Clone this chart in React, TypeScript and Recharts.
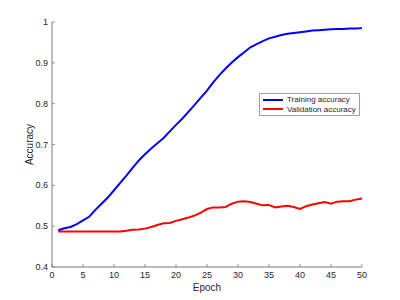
import { Legend, Line, LineChart, XAxis, YAxis } from "recharts";

const epochs = Array.from({ length: 50 }, (_, i) => i + 1);
const trainingAcc = [
    0.490, 0.495, 0.498, 0.505, 0.514, 0.523, 0.540, 0.555, 0.570, 0.588,
    0.606, 0.624, 0.643, 0.661, 0.676, 0.690, 0.703, 0.716, 0.732, 0.748,
    0.763, 0.780, 0.797, 0.815, 0.832, 0.852, 0.870, 0.886, 0.901, 0.914,
    0.926, 0.938, 0.946, 0.953, 0.960, 0.964, 0.968, 0.971, 0.973, 0.975,
    0.977, 0.979, 0.980, 0.981, 0.982, 0.983, 0.983, 0.984, 0.984, 0.985,
];
const validationAcc = [
    0.487, 0.487, 0.487, 0.487, 0.487, 0.487, 0.487, 0.487, 0.487, 0.487,
    0.487, 0.489, 0.491, 0.492, 0.494, 0.498, 0.503, 0.507, 0.508, 0.513,
    0.517, 0.521, 0.526, 0.533, 0.542, 0.546, 0.546, 0.547, 0.555, 0.560,
    0.561, 0.559, 0.555, 0.551, 0.552, 0.546, 0.548, 0.550, 0.547, 0.542,
    0.549, 0.553, 0.556, 0.559, 0.555, 0.560, 0.561, 0.561, 0.565, 0.568,
];
const xTicks = [0, 5, 10, 15, 20, 25, 30, 35, 40, 45, 50];
const yTicks = [0.4, 0.5, 0.6, 0.7, 0.8, 0.9, 1];

const data = epochs.map((e, i) => ({ epoch: e, train: trainingAcc[i], val: validationAcc[i] }));

const FONT = "'Liberation Sans', Arial, sans-serif";
const AXIS = "#7a7a7a";
const TEXT = "#262626";

function YTick({ x, y, payload }: any) {
    return (
        <g>
            <line x1={x + 4} y1={y} x2={x + 7} y2={y} stroke={AXIS} strokeWidth={0.8} />
            <text x={x} y={y} dy="0.35em" textAnchor="end" fontSize={9} fill={TEXT} fontFamily={FONT}>
                {payload.value === 1 ? "1" : payload.value.toFixed(1)}
            </text>
        </g>
    );
}

function XTick({ x, y, payload }: any) {
    return (
        <g>
            <line x1={x} y1={y - 5} x2={x} y2={y - 8} stroke={AXIS} strokeWidth={0.8} />
            <text x={x} y={y} dy="0.71em" textAnchor="middle" fontSize={9} fill={TEXT} fontFamily={FONT}>
                {payload.value}
            </text>
        </g>
    );
}

function LegendBox({ payload }: any) {
    return (
        <div style={{ border: "1px solid #a0a0a0", background: "#fff", padding: "1px 3px", fontFamily: FONT, fontSize: 8, color: TEXT, lineHeight: "9.5px" }}>
            {payload.map((p: any) => (
                <div key={p.value} style={{ display: "flex", alignItems: "center" }}>
                    <span style={{ display: "inline-block", width: 20, height: 1.6, background: p.color, marginRight: 4 }} />
                    {p.value}
                </div>
            ))}
        </div>
    );
}

export default function App() {
    return (
        <div style={{ position: "fixed", left: 0, top: 0, width: 400, height: 300, background: "#fff" }}>
            <LineChart width={400} height={300} data={data} margin={{ top: 22, right: 38, bottom: 0, left: 0 }}>
                <XAxis
                    dataKey="epoch"
                    type="number"
                    domain={[0, 50]}
                    ticks={xTicks}
                    tickSize={0}
                    tickMargin={5}
                    tick={<XTick />}
                    height={33}
                    stroke={AXIS}
                    label={{ value: "Epoch", position: "insideBottom", offset: 9, fontSize: 10, fill: TEXT, fontFamily: FONT }}
                />
                <YAxis
                    type="number"
                    domain={[0.4, 1]}
                    ticks={yTicks}
                    tickSize={0}
                    tickMargin={4}
                    tick={<YTick />}
                    width={52}
                    stroke={AXIS}
                    label={{ value: "Accuracy", angle: -90, position: "insideLeft", offset: 29, fontSize: 10, fill: TEXT, fontFamily: FONT, style: { textAnchor: "middle" } }}
                />
                <Legend
                    layout="horizontal"
                    verticalAlign="middle"
                    align="center"
                    content={<LegendBox />}
                    wrapperStyle={{ position: "absolute", left: 259, top: 93, width: "auto" }}
                />
                <Line name="Training accuracy" dataKey="train" stroke="#0000ff" strokeWidth={2} dot={false} isAnimationActive={false} />
                <Line name="Validation accuracy" dataKey="val" stroke="#ff0000" strokeWidth={2} dot={false} isAnimationActive={false} />
            </LineChart>
        </div>
    );
}
